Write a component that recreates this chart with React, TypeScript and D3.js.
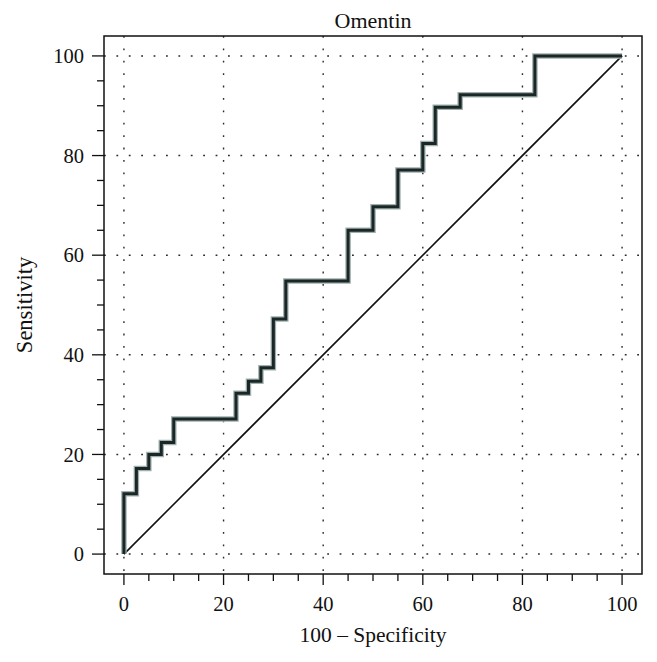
import React from "react";
import * as d3 from "d3";

const title = "Omentin";
const xLabel = "100 – Specificity";
const yLabel = "Sensitivity";
const fpr = [0, 0, 2.5, 5, 7.5, 10, 22.5, 25, 27.5, 30, 32.5, 45, 50, 55, 60, 62.5, 67.5, 82.5, 100];
const tpr = [0, 12.1, 17.2, 20.0, 22.4, 27.1, 32.3, 34.7, 37.4, 47.2, 54.8, 65.0, 69.7, 77.1, 82.4, 89.7, 92.2, 100, 100];
const majorTicks = [0, 20, 40, 60, 80, 100];
const minorTicks = [5, 10, 15, 25, 30, 35, 45, 50, 55, 65, 70, 75, 85, 90, 95];
const diagonal = [0, 100];

const W = 657, H = 662;
const left = 104, right = 642, top = 36, bottom = 574;
const FONT = "'Liberation Serif', 'DejaVu Serif', serif";

export default function App() {
  const x = d3.scaleLinear().domain([-4, 104]).range([left, right]);
  const y = d3.scaleLinear().domain([-4, 104]).range([bottom, top]);
  const pts: [number, number][] = fpr.map((f, i) => [f, tpr[i]]);
  const line = d3.line<[number, number]>().x(d => x(d[0])).y(d => y(d[1])).curve(d3.curveStepAfter);
  const rocPath = line(pts) || "";
  const diagPath = d3.line<number>().x(d => x(d)).y(d => y(d))(diagonal) || "";
  const gridColor = "#2a2a2a";
  return (
    <svg width={W} height={H} style={{ position: "absolute", left: 0, top: 0, background: "#fff" }}>
      <rect x={0} y={0} width={W} height={H} fill="#fff" />
      {/* grid */}
      {majorTicks.map(t => (
        <g key={"g" + t}>
          <line x1={x(t)} x2={x(t)} y1={top} y2={bottom} stroke={gridColor} strokeWidth={1.4} strokeDasharray="1.8,10.6" />
          <line x1={left} x2={right} y1={y(t)} y2={y(t)} stroke={gridColor} strokeWidth={1.4} strokeDasharray="1.8,10.6" />
        </g>
      ))}
      {/* diagonal */}
      <path d={diagPath} fill="none" stroke="#111" strokeWidth={1.6} />
      {/* ROC curve */}
      <path d={rocPath} fill="none" stroke="#9fb0ad" strokeWidth={5.5} strokeLinejoin="miter" />
      <path d={rocPath} fill="none" stroke="#1b2626" strokeWidth={3} strokeLinejoin="miter" />
      {/* frame */}
      <rect x={left} y={top} width={right - left} height={bottom - top} fill="none" stroke="#111" strokeWidth={1.5} />
      {/* x ticks */}
      {majorTicks.map(t => (
        <g key={"xt" + t}>
          <line x1={x(t)} x2={x(t)} y1={bottom} y2={bottom + 11} stroke="#111" strokeWidth={1.3} />
          <text x={x(t)} y={611} textAnchor="middle" fontFamily={FONT} fontSize={20.5} fill="#111">{t}</text>
        </g>
      ))}
      {minorTicks.map(t => (
        <line key={"xm" + t} x1={x(t)} x2={x(t)} y1={bottom} y2={bottom + 7} stroke="#111" strokeWidth={1.3} />
      ))}
      {/* y ticks */}
      {majorTicks.map(t => (
        <g key={"yt" + t}>
          <line x1={left - 12} x2={left} y1={y(t)} y2={y(t)} stroke="#111" strokeWidth={1.3} />
          <text x={84} y={y(t)} dy="0.35em" textAnchor="end" fontFamily={FONT} fontSize={20.5} fill="#111">{t}</text>
        </g>
      ))}
      {minorTicks.map(t => (
        <line key={"ym" + t} x1={left - 7} x2={left} y1={y(t)} y2={y(t)} stroke="#111" strokeWidth={1.3} />
      ))}
      {/* titles */}
      <text x={(left + right) / 2} y={28} textAnchor="middle" fontFamily={FONT} fontSize={22} fill="#111">{title}</text>
      <text x={(left + right) / 2} y={642} textAnchor="middle" fontFamily={FONT} fontSize={21.5} fill="#111">{xLabel}</text>
      <text transform={`translate(32, ${(top + bottom) / 2}) rotate(-90)`} textAnchor="middle" fontFamily={FONT} fontSize={22.5} fill="#111">{yLabel}</text>
    </svg>
  );
}
